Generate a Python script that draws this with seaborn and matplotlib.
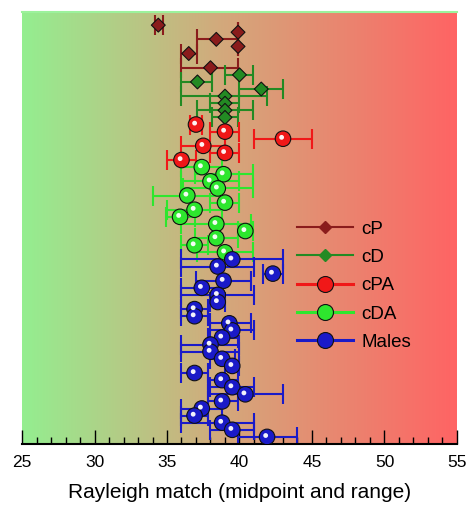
import numpy as np
import pandas as pd
import matplotlib
matplotlib.use("Agg")
import matplotlib.pyplot as plt
import matplotlib.transforms as mtransforms
from matplotlib.lines import Line2D
from matplotlib.colors import LinearSegmentedColormap
import seaborn as sns

# ---------------- data (row index from top, midpoint, range low/high) ----------------
groups = ["cP", "cD", "cPA", "cDA", "Males"]

cP_row = [0, 1, 2, 3, 4, 6]
cP_mid = [34.4, 39.9, 38.4, 39.9, 36.5, 38.0]
cP_lo = [34.2, 39.9, 37.1, 39.9, 36.0, 36.0]
cP_hi = [34.7, 39.9, 39.9, 39.9, 37.1, 39.9]

cD_row = [7, 8, 9, 10, 11, 12, 13]
cD_mid = [40.0, 37.1, 41.5, 39.0, 39.0, 39.0, 39.0]
cD_lo = [39.0, 36.0, 40.0, 36.0, 38.0, 37.1, 38.1]
cD_hi = [40.9, 38.1, 43.0, 41.9, 40.0, 40.9, 39.9]

cPA_row = [14, 15, 16, 17, 18, 19]
cPA_mid = [37.0, 39.0, 43.0, 37.5, 39.0, 36.0]
cPA_lo = [36.6, 38.0, 41.0, 36.0, 38.0, 35.0]
cPA_hi = [37.4, 40.0, 45.0, 39.0, 40.0, 37.0]

cDA_row = [20, 21, 22, 23, 24, 25, 26, 27, 28, 29, 30, 31, 32]
cDA_mid = [37.4, 38.9, 38.0, 38.5, 36.4, 39.0, 36.9, 35.9, 38.4, 40.4, 38.4, 36.9, 39.0]
cDA_lo = [36.0, 36.9, 36.0, 36.1, 34.0, 38.0, 35.0, 34.9, 36.0, 39.9, 36.9, 36.0, 37.1]
cDA_hi = [38.8, 40.9, 40.0, 40.9, 38.8, 40.0, 38.8, 36.9, 40.8, 40.9, 39.9, 37.8, 40.9]

Males_row = list(range(33, 59))
Males_mid = [39.5, 38.5, 42.3, 38.9, 37.4, 38.5, 38.5, 36.9, 36.9, 39.3, 39.5, 38.8, 38.0,
             38.0, 38.8, 39.5, 36.9, 38.8, 39.5, 40.4, 38.8, 37.4, 36.9, 38.8, 39.5, 41.9]
Males_lo = [36.0, 36.0, 41.6, 37.0, 36.0, 36.0, 38.0, 36.0, 36.0, 38.0, 38.0, 37.8, 36.0,
            36.0, 38.0, 39.0, 36.0, 37.8, 38.0, 37.8, 37.8, 36.0, 36.0, 36.0, 38.0, 39.9]
Males_hi = [43.0, 41.0, 43.0, 40.8, 38.8, 41.0, 39.0, 37.8, 37.8, 40.8, 41.0, 39.9, 40.0,
            40.0, 39.7, 40.0, 37.8, 39.9, 41.0, 43.0, 39.9, 38.8, 37.8, 41.0, 41.0, 44.0]

x_ticks = [25, 30, 35, 40, 45, 50, 55]
x_label = "Rayleigh match (midpoint and range)"

# ---------------- styles ----------------
colors = {"cP": "#8a1c1c", "cD": "#238a23", "cPA": "#f01818", "cDA": "#2ee62e", "Males": "#1a1ac8"}
markers = {"cP": "D", "cD": "D", "cPA": "o", "cDA": "o", "Males": "o"}
sizes = {"cP": 50, "cD": 50, "cPA": 125, "cDA": 125, "Males": 125}
spheres = ["cPA", "cDA", "Males"]

frames = []
for g, r, m, lo, hi in [("cP", cP_row, cP_mid, cP_lo, cP_hi),
                        ("cD", cD_row, cD_mid, cD_lo, cD_hi),
                        ("cPA", cPA_row, cPA_mid, cPA_lo, cPA_hi),
                        ("cDA", cDA_row, cDA_mid, cDA_lo, cDA_hi),
                        ("Males", Males_row, Males_mid, Males_lo, Males_hi)]:
    frames.append(pd.DataFrame({"group": g, "row": r, "mid": m, "lo": lo, "hi": hi}))
df = pd.concat(frames, ignore_index=True)

plt.rcParams["font.family"] = ["Liberation Sans", "DejaVu Sans"]

fig = plt.figure(figsize=(4.7, 5.14), dpi=100)
ax = fig.add_axes([22 / 470, 1 - 444 / 514, 435 / 470, 432 / 514])

# gradient background
cmap = LinearSegmentedColormap.from_list(
    "bg", [(0.0, "#94ee90"), (0.45, "#d2aa7c"), (1.0, "#ff6464")])
grad = np.linspace(0, 1, 256).reshape(1, -1)
ax.imshow(grad, cmap=cmap, aspect="auto", extent=(0, 1, 0, 1),
          transform=ax.transAxes, zorder=0)

# error bars (ranges)
for g in groups:
    d = df[df.group == g]
    ax.errorbar(d["mid"], d["row"], xerr=[d["mid"] - d["lo"], d["hi"] - d["mid"]],
                fmt="none", ecolor=colors[g], elinewidth=1.5, capsize=7.5,
                capthick=1.5, zorder=2)

# midpoints
sns.scatterplot(data=df, x="mid", y="row", hue="group", style="group", size="group",
                palette=colors, markers=markers, sizes=sizes, hue_order=groups,
                edgecolor="#111111", linewidth=0.8, legend=False, ax=ax, zorder=3)

# sphere highlights
hl = mtransforms.offset_copy(ax.transData, fig=fig, x=-1.0, y=1.0, units="points")
sns.scatterplot(data=df[df.group.isin(spheres)], x="mid", y="row", color="white",
                s=12, edgecolor="none", alpha=0.95, legend=False, ax=ax,
                transform=hl, zorder=4)

ax.set_xlim(25, 55)
ax.set_ylim(59.0, -1.85)
ax.set_xticks(x_ticks)
ax.set_xticks(np.arange(25, 56, 1), minor=True)
ax.set_yticks([])
ax.set_ylabel("")
ax.set_xlabel(x_label, fontsize=15, labelpad=9)
ax.tick_params(axis="x", which="major", direction="in", length=10, width=1,
               labelsize=12.5, pad=8, color="black")
ax.tick_params(axis="x", which="minor", direction="in", length=5, width=1, color="black")
for s in ["left", "right"]:
    ax.spines[s].set_visible(False)
ax.spines["top"].set_color("#9cf29c")
ax.spines["top"].set_linewidth(1.5)
ax.spines["bottom"].set_color("black")
ax.spines["bottom"].set_linewidth(1.5)

# legend
handles = []
for g in groups:
    if markers[g] == "D":
        handles.append(Line2D([], [], color=colors[g], lw=1.5, marker="D", ms=6,
                              mfc=colors[g], mec=colors[g]))
    else:
        handles.append(Line2D([], [], color=colors[g], lw=2.2, marker="o", ms=11.5,
                              mfc=colors[g], mec="#111111", mew=0.8))
ax.legend(handles, groups, loc="upper left", bbox_to_anchor=(0.615, 0.535),
          frameon=False, fontsize=13.5, handlelength=3.0, labelspacing=0.6,
          handletextpad=0.45, borderaxespad=0)

fig.savefig("out.png", dpi=100)
